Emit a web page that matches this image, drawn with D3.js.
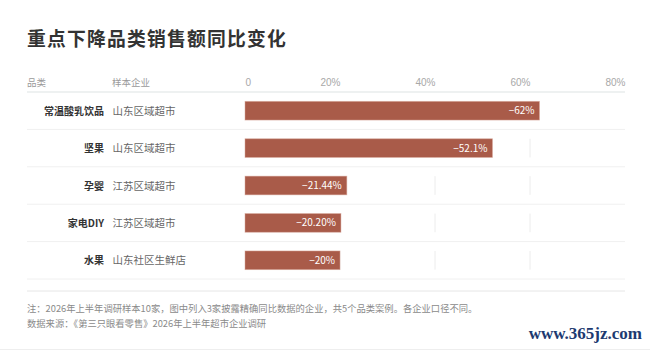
<!DOCTYPE html>
<html>
<head>
<meta charset="utf-8">
<script src="https://cdn.jsdelivr.net/npm/d3@7"></script>
<style>
  body { margin: 0; background: #fff; }
  svg { display: block; font-family: "Noto Sans CJK SC", "Noto Sans", sans-serif; }
  .title { font-size: 19px; font-weight: 700; fill: #333; letter-spacing: 1.2px; }
  .head { font-size: 9.5px; fill: #9a9a9a; }
  .tick text { font-size: 10px; fill: #a8a8a8; }
  .cat { font-size: 10px; font-weight: 700; fill: #333; }
  .comp { font-size: 10.5px; fill: #666; }
  .valueLabel { font-size: 10px; fill: #fff; }
  .note { font-size: 9.3px; fill: #8a8a8a; }
  .mark { font-family: "Liberation Serif", serif; font-size: 17px; font-weight: 700; fill: #1d3a70; }
</style>
</head>
<body>
<div id="chart"></div>
<script>
const categories = ["常温酸乳饮品", "坚果", "孕婴", "家电DIY", "水果"];
const companies = ["山东区域超市", "山东区域超市", "江苏区域超市", "江苏区域超市", "山东社区生鲜店"];
const values = [-62, -52.1, -21.44, -20.20, -20];
const valueLabels = ["−62%", "−52.1%", "−21.44%", "−20.20%", "−20%"];
const tickValues = [0, 20, 40, 60, 80];

const width = 650;
const height = 350;
const left = 27;
const right = 625;
const headLine = 92;
const rowsBottom = 279;

const data = categories.map((c, i) => ({
   cat: c,
   comp: companies[i],
   value: values[i],
   label: valueLabels[i]
}));

const svg = d3.select("#chart").append("svg")
   .attr("width", width)
   .attr("height", height);

const title = svg.append("text")
   .attr("class", "title")
   .attr("x", left)
   .attr("y", 46)
   .text("重点下降品类销售额同比变化");
// keep the title to the width it has in the source
if (title.node().getComputedTextLength() > 262)
   title.attr("textLength", 260).attr("lengthAdjust", "spacingAndGlyphs");

// header row
svg.append("text").attr("class", "head").attr("x", left).attr("y", 86).text("品类");
svg.append("text").attr("class", "head").attr("x", 112).attr("y", 86).text("样本企业");

const x = d3.scaleLinear()
   .domain([0, 80])
   .range([245, right]);

const y = d3.scaleBand()
   .domain(categories)
   .range([headLine, rowsBottom])
   .paddingInner(0.5)
   .paddingOuter(0.25);

const step = y.step();

const xAxis = d3.axisTop(x)
   .tickValues(tickValues)
   .tickSize(0)
   .tickPadding(0)
   .tickFormat(d => d === 0 ? "0" : d + "%");

const ax = svg.append("g")
   .attr("class", "axis")
   .attr("transform", "translate(0, 86)")
   .call(xAxis);
ax.select(".domain").remove();
ax.selectAll(".tick text")
   .attr("dy", 0)
   .style("text-anchor", d => d === 0 ? "start" : "end");

// row separators
svg.selectAll("line.sep")
   .data(categories)
   .enter()
   .append("line")
   .attr("class", "sep")
   .attr("x1", left)
   .attr("x2", right)
   .attr("y1", d => y(d) - y.bandwidth() / 2 + step)
   .attr("y2", d => y(d) - y.bandwidth() / 2 + step)
   .attr("stroke", "#f0f0f0")
   .attr("stroke-width", 1);

svg.append("line")
   .attr("x1", left).attr("x2", right)
   .attr("y1", headLine).attr("y2", headLine)
   .attr("stroke", "#dde3e3")
   .attr("stroke-width", 1.2);

// grid lines inside each row
const gridTicks = tickValues.filter(t => t > 0 && t < 80);
data.forEach(d => {
   svg.selectAll(null)
      .data(gridTicks)
      .enter()
      .append("line")
      .attr("x1", t => x(t))
      .attr("x2", t => x(t))
      .attr("y1", y(d.cat))
      .attr("y2", y(d.cat) + y.bandwidth())
      .attr("stroke", "#ececec")
      .attr("stroke-width", 1);
});

svg.selectAll("rect.bar")
   .data(data)
   .enter()
   .append("rect")
   .attr("class", "bar")
   .attr("x", x(0))
   .attr("y", d => y(d.cat))
   .attr("width", d => x(Math.abs(d.value)) - x(0))
   .attr("height", y.bandwidth())
   .attr("fill", "#a95b49")
   .attr("stroke", "#d9a89c")
   .attr("stroke-opacity", 0.6)
   .attr("stroke-width", 0.8);

svg.selectAll("text.valueLabel")
   .data(data)
   .enter()
   .append("text")
   .attr("class", "valueLabel")
   .attr("x", d => x(Math.abs(d.value)) - 5)
   .attr("y", d => y(d.cat) + y.bandwidth() / 2 + 3.5)
   .style("text-anchor", "end")
   .text(d => d.label);

svg.selectAll("text.cat")
   .data(data)
   .enter()
   .append("text")
   .attr("class", "cat")
   .attr("x", 104)
   .attr("y", d => y(d.cat) + y.bandwidth() / 2 + 4)
   .style("text-anchor", "end")
   .text(d => d.cat);

svg.selectAll("text.comp")
   .data(data)
   .enter()
   .append("text")
   .attr("class", "comp")
   .attr("x", 112.5)
   .attr("y", d => y(d.cat) + y.bandwidth() / 2 + 4)
   .text(d => d.comp);

// footer
svg.append("line")
   .attr("x1", left).attr("x2", right)
   .attr("y1", 291).attr("y2", 291)
   .attr("stroke", "#e6e6e6");

svg.append("text")
   .attr("class", "note")
   .attr("x", left)
   .attr("y", 312)
   .text("注：2026年上半年调研样本10家，图中列入3家披露精确同比数据的企业，共5个品类案例。各企业口径不同。");

svg.append("text")
   .attr("class", "note")
   .attr("x", left)
   .attr("y", 327)
   .text("数据来源：《第三只眼看零售》2026年上半年超市企业调研");

svg.append("text")
   .attr("class", "mark")
   .attr("x", 642)
   .attr("y", 339)
   .style("text-anchor", "end")
   .text("www.365jz.com");

svg.append("line")
   .attr("x1", 0).attr("x2", width)
   .attr("y1", 349.5).attr("y2", 349.5)
   .attr("stroke", "#eeeeee");
</script>
</body>
</html>
